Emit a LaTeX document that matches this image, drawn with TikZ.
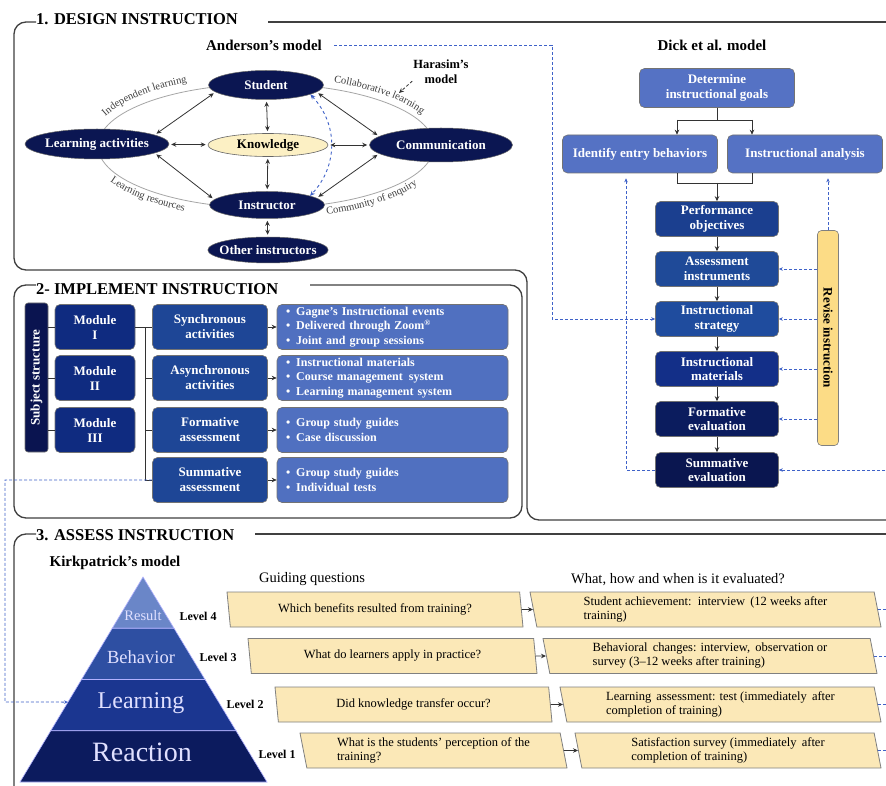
\documentclass[tikz,border=0pt]{standalone}
\usepackage{fontspec}
\setmainfont{Liberation Serif}
\usepackage{xcolor}
\usetikzlibrary{arrows.meta,shapes.geometric,calc,decorations.text}

\definecolor{navy}{HTML}{0B1652}
\definecolor{knowc}{HTML}{FCF0C4}
\definecolor{lightb}{HTML}{5572C4}
\definecolor{perfc}{HTML}{1B3F8F}
\definecolor{assec}{HTML}{1F4A98}
\definecolor{stratc}{HTML}{1F4C9E}
\definecolor{materc}{HTML}{132F88}
\definecolor{formc}{HTML}{0B1C5E}
\definecolor{summc}{HTML}{0A1650}
\definecolor{revc}{HTML}{FCDC86}
\definecolor{subjc}{HTML}{0A1450}
\definecolor{modc}{HTML}{0F2B80}
\definecolor{actc}{HTML}{1E4696}
\definecolor{bullc}{HTML}{5070C0}
\definecolor{resc}{HTML}{6A86C8}
\definecolor{behc}{HTML}{2E4FA2}
\definecolor{lrnc}{HTML}{1B3690}
\definecolor{reac}{HTML}{0C1B5E}
\definecolor{sand}{HTML}{FBE8B7}
\definecolor{dashblue}{HTML}{3F62C8}

\begin{document}
\begin{tikzpicture}[x=1pt,y=-1pt,>={Stealth[length=5pt,width=4.5pt]},
    frame/.style={draw=black!75,line width=1.3pt,rounded corners=12pt},
    wire/.style={draw=black!80,line width=0.8pt},
    flow/.style={wire,->},
    link/.style={wire,<->,shorten <=2pt,shorten >=2pt},
    fb/.style={draw=dashblue,densely dashed,line width=0.9pt,-{Stealth[length=4pt,width=3.5pt]}},
    ringtext/.style={decorate,decoration={text along path,text align=center,raise=#1}},
    sectitle/.style={anchor=west,inner sep=0pt,font=\bfseries\fontsize{16.5}{18}\selectfont},
    mtitle/.style={inner sep=2pt,font=\bfseries\fontsize{15}{17}\selectfont}]
\fill[white] (0,0) rectangle (886,786);
\useasboundingbox (0,0) rectangle (886,786);

% ---------------- 1. design instruction
\node[sectitle] (t1) at (36,19) {1. DESIGN INSTRUCTION};
\draw[frame] (36,22) -- (14,22) -- (14,270) -- (527,270) -- (527,520) -- (890,520);
\draw[frame] (268,22) -- (890,22);

\node[mtitle] (anders) at (264,45) {Anderson's model};
\node[mtitle] (dick) at (712,45) {Dick et al. model};
\node[mtitle,align=center,font=\bfseries\fontsize{12.5}{15}\selectfont] (haras) at (441,72) {Harasim's\\model};

% interaction ring, labels run along it
\draw[black!35,line width=0.8pt] (266,146) ellipse [x radius=168, y radius=62];
\path[ringtext=1pt,decoration={text={|\fontsize{10.5}{12}\selectfont\color{black!75}|Independent learning}}]
    (92.9,139.0) arc[start angle=184,end angle=252,x radius=174,y radius=68];
\path[ringtext=1pt,decoration={text={|\fontsize{10.5}{12}\selectfont\color{black!75}|Collaborative learning}}]
    (314.0,80.6) arc[start angle=286,end angle=346,x radius=174,y radius=68];
\path[ringtext=0pt,decoration={text={|\fontsize{10.5}{12}\selectfont\color{black!75}|Learning resources}}]
    (96.8,169.8) arc[start angle=161,end angle=111,x radius=179,y radius=73];
\path[ringtext=0pt,decoration={text={|\fontsize{10.5}{12}\selectfont\color{black!75}|Community of enquiry}}]
    (315.3,216.2) arc[start angle=74,end angle=26,x radius=179,y radius=73];

\begin{scope}[every node/.style={ellipse,fill=navy,draw=black!60,line width=0.5pt,text=white,
        font=\bfseries\fontsize{13}{15}\selectfont,inner xsep=-6pt,inner ysep=0pt}]
    \node[minimum width=115pt,minimum height=29pt] (stu) at (266,85) {Student};
    \node[minimum width=144pt,minimum height=30pt] (lact) at (97,144) {Learning activities};
    \node[minimum width=143pt,minimum height=34pt] (comm) at (441,145) {Communication};
    \node[minimum width=115pt,minimum height=27pt] (inst) at (267,205) {Instructor};
    \node[minimum width=118pt,minimum height=26pt] (other) at (268,250) {Other instructors};
\end{scope}
\node[ellipse,fill=knowc,draw=black!60,line width=0.6pt,inner sep=0pt,
    font=\bfseries\fontsize{13}{15}\selectfont,minimum width=120pt,minimum height=23pt] (know) at (268,145) {Knowledge};

\draw[link] (stu) -- (know);
\draw[link] (know) -- (inst);
\draw[link] (inst) -- (other);
\draw[link] (lact) -- (know);
\draw[link] (know) -- (comm);
\draw[link] (stu.188) -- (lact.9);
\draw[link] (stu.-8) -- (comm.172);
\draw[link] (inst.174) -- (lact.-9);
\draw[link] (inst.8) -- (comm.188);
\draw[fb,<->,dashed] (stu.-12) .. controls +(28,30) and +(28,-30) .. (inst.12);

\coordinate (hpt) at (399,93);
\draw[black!80,densely dashed,line width=0.8pt,->] (haras.south west) ++(1,-5) -- (hpt);

% Dick et al. steps
\begin{scope}[every node/.style={rectangle,rounded corners=5pt,draw=black!55,line width=0.6pt,text=white,
        align=center,font=\bfseries\fontsize{13}{14.5}\selectfont,inner sep=1pt}]
    \node[fill=lightb,minimum width=155pt,minimum height=39pt] (goal) at (717,88) {Determine\\instructional goals};
    \node[fill=lightb,minimum width=155pt,minimum height=38pt] (entry) at (640,154) {Identify entry behaviors};
    \node[fill=lightb,minimum width=155pt,minimum height=38pt] (anal) at (805,154) {Instructional analysis};
    \node[fill=perfc,minimum width=123pt,minimum height=35pt] (perf) at (717,219) {Performance\\objectives};
    \node[fill=assec,minimum width=123pt,minimum height=35pt] (asse) at (717,269) {Assessment\\instruments};
    \node[fill=stratc,minimum width=123pt,minimum height=35pt] (strat) at (717,319) {Instructional\\strategy};
    \node[fill=materc,minimum width=123pt,minimum height=35pt] (mater) at (717,369) {Instructional\\materials};
    \node[fill=formc,minimum width=123pt,minimum height=35pt] (forme) at (717,419) {Formative\\evaluation};
    \node[fill=summc,minimum width=123pt,minimum height=35pt] (summe) at (717,470) {Summative\\evaluation};
\end{scope}
\node[rectangle,rounded corners=4pt,fill=revc,draw=black!50,line width=0.6pt,
    minimum width=21pt,minimum height=215pt] (revbar) at (828,338) {};
\node[rotate=-90,font=\bfseries\fontsize{13}{15}\selectfont] (revtxt) at (revbar) {Revise instruction};

\coordinate (jl) at (677,120);
\coordinate (jr) at (752,120);
\coordinate (kl) at (677,183);
\coordinate (kr) at (752,183);
\draw[wire] (goal.south) -- (goal.south |- jl) (jl) -- (jr);
\draw[flow] (jl) -- (jl |- entry.north);
\draw[flow] (jr) -- (jr |- anal.north);
\draw[wire] (jl |- entry.south) -- (kl) -- (kr) -- (jr |- anal.south);
\draw[flow] (perf.north |- kl) -- (perf.north);
\foreach \a/\b in {perf/asse,asse/strat,strat/mater,mater/forme,forme/summe}
    \draw[flow] (\a) -- (\b);

% revision loops
\coordinate (dk) at (552,45);
\draw[fb,shorten <=10pt] (anders.east) -- (dk) |- (strat.west);
\draw[fb,shorten >=5pt] (revbar.north) -- (revbar.north |- anal.south);
\foreach \b in {asse,strat,mater,forme}
    \draw[fb] (revbar.west |- \b) -- (\b.east);
\coordinate (edgeS) at (890,470);
\draw[fb] (edgeS) -- (summe.east);
\coordinate (loopL) at (626,470);
\draw[fb,shorten >=5pt] (summe.west) -- (loopL) -- (loopL |- entry.south);

% ---------------- 2. implement instruction
\node[sectitle] (t2) at (36,289) {2- IMPLEMENT INSTRUCTION};
\draw[frame] (36,285) -- (14,285) -- (14,518) -- (522,518) -- (522,285) -- (310,285);

\node[rectangle,rounded corners=3pt,fill=subjc,draw=black!55,line width=0.6pt,
    minimum width=23pt,minimum height=149pt] (subj) at (36.5,377.5) {};
\node[rotate=90,text=white,font=\bfseries\fontsize{13}{15}\selectfont] (subjtxt) at (subj) {Subject structure};

\begin{scope}[every node/.style={rectangle,rounded corners=5pt,draw=black!55,line width=0.6pt,text=white,
        font=\bfseries\fontsize{13}{15}\selectfont,minimum height=45pt,inner sep=1pt}]
    \node[fill=modc,minimum width=80pt,align=center] (mod1) at (95,327) {Module\\I};
    \node[fill=modc,minimum width=80pt,align=center] (mod2) at (95,378) {Module\\II};
    \node[fill=modc,minimum width=80pt,align=center] (mod3) at (95,430) {Module\\III};
    \node[fill=actc,minimum width=115pt,align=center] (sync) at (210,327) {Synchronous\\activities};
    \node[fill=actc,minimum width=115pt,align=center] (async) at (210,378) {Asynchronous\\activities};
    \node[fill=actc,minimum width=115pt,align=center] (form) at (210,430) {Formative\\assessment};
    \node[fill=actc,minimum width=115pt,align=center] (summ) at (210,480) {Summative\\assessment};
\end{scope}
\begin{scope}[every node/.style={rectangle,rounded corners=5pt,draw=black!55,line width=0.6pt,text=white,
        font=\bfseries\fontsize{12}{14.5}\selectfont,minimum height=45pt,inner sep=1pt,
        fill=bullc,minimum width=231pt,text width=213pt,align=left}]
    \node (syncB) at (392.5,327)
        {\textbullet\enspace Gagne's Instructional events\\\textbullet\enspace Delivered through Zoom\textsuperscript{\textregistered}\\\textbullet\enspace Joint and group sessions};
    \node (asyncB) at (392.5,378)
        {\textbullet\enspace Instructional materials\\\textbullet\enspace Course management\, system\\\textbullet\enspace Learning management system};
    \node (formB) at (392.5,430)
        {\textbullet\enspace Group study guides\\\textbullet\enspace Case discussion\\[4pt]};
    \node (summB) at (392.5,480)
        {\textbullet\enspace Group study guides\\\textbullet\enspace Individual tests\\[4pt]};
\end{scope}

\foreach \m in {mod1,mod2,mod3}
    \draw[wire] (subj.east |- \m) -- (\m.west);
\coordinate (trunk) at (145,327);
\draw[wire] (mod1.east) -- (sync.west);
\draw[wire] (trunk) |- (summ.west);
\foreach \a in {async,form}
    \draw[wire] (trunk |- \a) -- (\a.west);
\foreach \a/\b in {sync/syncB,async/asyncB,form/formB,summ/summB}
    \draw[flow] (\a) -- (\b);

% ---------------- 3. assess instruction
\node[sectitle] (t3) at (36,535) {3. ASSESS INSTRUCTION};
\draw[frame] (36,534) -- (14,534) -- (14,800);
\draw[frame] (255,534) -- (890,534);

\node[mtitle] (kirk) at (115,563) {Kirkpatrick's model};
\node[font=\fontsize{14.5}{16}\selectfont] (guide) at (312,579) {Guiding questions};
\node[font=\fontsize{14.5}{16}\selectfont] (evalh) at (678,580) {What, how and when is it evaluated?};

% pyramid
\coordinate (apex) at (143,577);
\coordinate (bl) at (20,782);
\coordinate (br) at (267,782);
\foreach \t/\u/\c in {0/0.25/resc,0.25/0.5/behc,0.5/0.75/lrnc,0.75/1/reac}
    \filldraw[fill=\c,draw=white!70!blue,line width=0.6pt]
        ($(apex)!\t!(bl)$) -- ($(apex)!\t!(br)$) -- ($(apex)!\u!(br)$) -- ($(apex)!\u!(bl)$) -- cycle;
\begin{scope}[every node/.style={text=white!88!blue,inner sep=0pt}]
    \node[font=\fontsize{14.5}{16}\selectfont] (res) at (143,616) {Result};
    \node[font=\fontsize{18.5}{20}\selectfont] (beh) at (141,657) {Behavior};
    \node[font=\fontsize{24}{26}\selectfont] (lrn) at (141,703) {Learning};
    \node[font=\fontsize{28}{30}\selectfont] (rea) at (142,752) {Reaction};
\end{scope}
\begin{scope}[every node/.style={font=\bfseries\fontsize{12}{14}\selectfont,inner sep=0pt}]
    \node (lv4) at (198,616) {Level 4};
    \node (lv3) at (218,657) {Level 3};
    \node (lv2) at (245,704) {Level 2};
    \node (lv1) at (277,754) {Level 1};
\end{scope}

\coordinate (lp) at (5,702);
\draw[fb] (summ.west) -| (lp) -- ($(apex)!0.61!(bl)$);

\begin{scope}[every node/.style={trapezium,trapezium left angle=104,trapezium right angle=76,
        trapezium stretches body=true,fill=sand,draw=black!50,line width=0.8pt,minimum height=35pt,
        inner xsep=1pt,inner ysep=1pt,align=left,font=\fontsize{12.5}{14}\selectfont}]
    \node[minimum width=296pt] (q4) at (375,609.5) {Which benefits resulted from training?};
    \node[minimum width=289pt] (q3) at (392.5,656) {What do learners apply in practice?};
    \node[minimum width=277pt] (q2) at (413.5,704.5) {Did knowledge transfer occur?};
    \node[minimum width=267pt] (q1) at (433.5,750.5) {What is the students' perception of the\\training?};
    \node[minimum width=351pt] (a4) at (705.5,609.5) {Student achievement:\, interview\, (12 weeks after\\training)};
    \node[minimum width=334pt] (a3) at (710,656) {Behavioral\, changes: interview,\, observation or\\survey (3--12 weeks after training)};
    \node[minimum width=321pt] (a2) at (720.5,704.5) {Learning\, assessment: test (immediately\, after\\completion of training)};
    \node[minimum width=306pt] (a1) at (728,750.5) {Satisfaction survey (immediately\, after\\completion of training)};
\end{scope}

\coordinate (edgeR) at (890,0);
\foreach \n in {4,3,2,1} {
    \draw[flow] (q\n.east) -- (a\n.west);
    \draw[fb,-] (a\n.east) -- (a\n.east -| edgeR);
}
\end{tikzpicture}
\end{document}
